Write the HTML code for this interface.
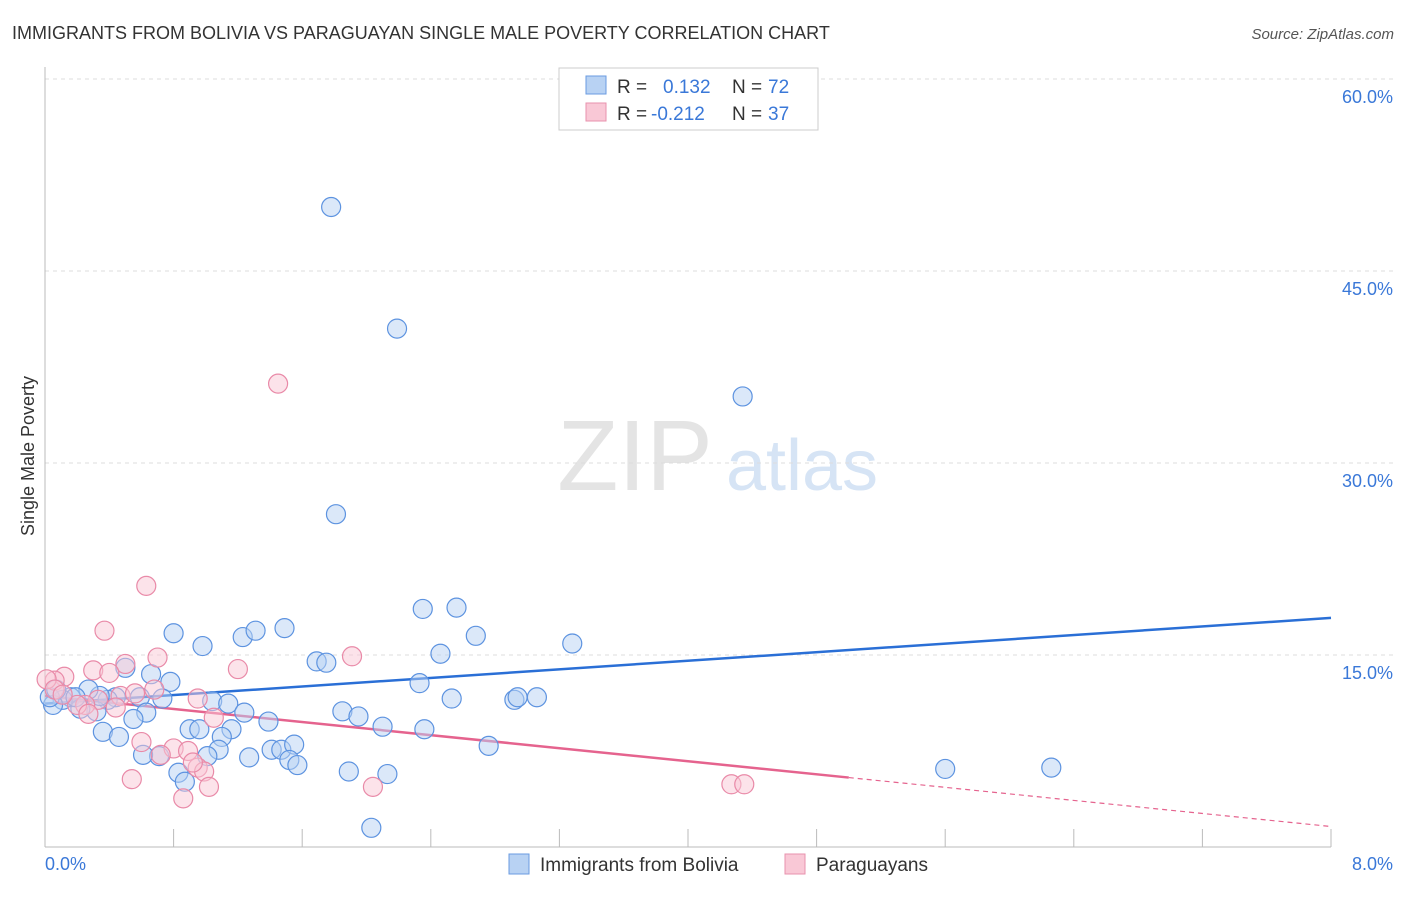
<!DOCTYPE html>
<html><head><meta charset="utf-8"><style>
body{margin:0;background:#fff;font-family:"Liberation Sans",sans-serif;}
svg text{font-family:"Liberation Sans",sans-serif;}
</style></head><body>
<svg id="chart" width="1406" height="892" viewBox="0 0 1406 892" xmlns="http://www.w3.org/2000/svg">
<text x="12" y="39" font-size="18" fill="#333">IMMIGRANTS FROM BOLIVIA VS PARAGUAYAN SINGLE MALE POVERTY CORRELATION CHART</text>
<text x="1394" y="39" font-size="15" fill="#555" text-anchor="end" font-style="italic">Source: ZipAtlas.com</text>
<text transform="translate(34,456) rotate(-90)" font-size="18" fill="#333" text-anchor="middle">Single Male Poverty</text>
<g><text x="635" y="490" font-size="100" fill="#e4e4e4" text-anchor="middle" font-family="Liberation Serif">ZIP</text><text x="802" y="490" font-size="72" fill="#d6e4f5" text-anchor="middle">atlas</text></g>
<g id="grid"></g><g id="axes"></g><g id="trends"></g><g id="dots"></g>
<g>
<rect x="559" y="68" width="259" height="62" fill="#fff" stroke="#ccc"/>
<rect x="586" y="76" width="20" height="18" fill="#b8d2f3" stroke="#6a9be0"/>
<text x="617" y="93" font-size="19" fill="#333">R = </text><text x="663" y="93" font-size="19" fill="#3a78d8">0.132</text>
<text x="732" y="93" font-size="19" fill="#333">N = </text><text x="768" y="93" font-size="19" fill="#3a78d8">72</text>
<rect x="586" y="103" width="20" height="18" fill="#f9c8d6" stroke="#e892ad"/>
<text x="617" y="120" font-size="19" fill="#333">R = </text><text x="651" y="120" font-size="19" fill="#3a78d8">-0.212</text>
<text x="732" y="120" font-size="19" fill="#333">N = </text><text x="768" y="120" font-size="19" fill="#3a78d8">37</text>
</g>
<g>
<rect x="509" y="854" width="20" height="20" fill="#b8d2f3" stroke="#6a9be0"/>
<text x="540" y="871" font-size="19" fill="#333">Immigrants from Bolivia</text>
<rect x="785" y="854" width="20" height="20" fill="#f9c8d6" stroke="#e892ad"/>
<text x="816" y="871" font-size="19" fill="#333">Paraguayans</text>
</g>
</svg>
<script>
const blueX=[1.78,2.19,4.34,1.81,2.35,2.56,2.68,3.28,0.80,0.98,1.23,1.31,1.49,1.69,1.75,2.46,2.33,2.53,2.92,2.94,3.06,1.85,1.95,2.10,2.36,2.76,1.89,2.13,2.03,5.60,6.26,0.50,0.66,0.78,0.73,0.59,0.63,0.55,0.44,0.39,0.32,0.36,0.46,0.34,0.27,0.16,0.11,0.05,0.03,0.07,1.04,1.14,1.24,1.39,0.90,0.96,1.16,1.10,1.08,1.01,1.27,1.41,1.47,1.55,1.52,1.57,0.83,0.87,0.71,0.61,0.22,0.19];
const blueY=[50.0,40.5,35.2,26.0,18.6,18.7,16.5,15.9,16.7,15.7,16.4,16.9,17.1,14.5,14.4,15.1,12.8,11.6,11.5,11.7,11.7,10.6,10.2,9.4,9.2,7.9,5.9,5.7,1.5,6.1,6.2,14.0,13.5,12.9,11.6,11.7,10.5,10.0,11.7,11.5,10.6,9.0,8.6,11.8,12.3,11.7,11.5,11.1,11.7,12.3,11.4,11.2,10.5,9.8,9.2,9.2,9.2,8.6,7.6,7.1,7.0,7.6,7.6,8.0,6.8,6.4,5.8,5.1,7.1,7.2,10.8,11.7];
const pinkX=[1.45,0.63,0.37,0.70,1.20,1.91,0.50,0.30,0.40,0.12,0.06,0.47,0.68,0.95,0.56,0.33,0.25,0.20,0.44,1.05,0.60,0.80,0.89,0.72,0.95,0.99,0.92,0.54,0.86,1.02,2.04,4.27,4.35,0.01,0.06,0.11,0.27];
const pinkY=[36.2,20.4,16.9,14.8,13.9,14.9,14.3,13.8,13.6,13.3,13.0,11.8,12.3,11.6,12.0,11.5,11.1,11.1,10.9,10.1,8.2,7.7,7.5,7.2,6.2,5.9,6.6,5.3,3.8,4.7,4.7,4.9,4.9,13.1,12.3,11.9,10.4];
const trendBlue=[11.2,17.9]; // y% at x=0 and x=8
const trendPink=[11.8,1.6];
const pinkSolidEndX=5.0;
const xTicks=[0,0.8,1.6,2.4,3.2,4.0,4.8,5.6,6.4,7.2,8.0];
const yTicks=[15,30,45,60];
const yLabels=["15.0%","30.0%","45.0%","60.0%"];
const xLabels=["0.0%","8.0%"];
const NS="http://www.w3.org/2000/svg";
const X=v=>45+v*160.75, Y=v=>847-v*12.8;
function mk(tag,attrs,parent){const e=document.createElementNS(NS,tag);for(const k in attrs)e.setAttribute(k,attrs[k]);document.getElementById(parent).appendChild(e);return e;}
yTicks.forEach((t,i)=>{
 const l=mk('line',{x1:45,x2:1394,y1:Y(t),y2:Y(t),stroke:'#ddd','stroke-dasharray':'4,4'},'grid');
 
 
 const tx=mk('text',{x:1393,y:Y(t)+24,'font-size':18,fill:'#3a78d8','text-anchor':'end'},'axes');tx.textContent=yLabels[i];
 
 
});
const tg=mk('line',{x1:45,x2:1394,y1:79,y2:79,stroke:'#ddd','stroke-dasharray':'4,4'},'grid');


const ya=mk('line',{x1:45,x2:45,y1:67,y2:847,stroke:'#bbb'},'axes');


const xa=mk('line',{x1:45,x2:1331,y1:847,y2:847,stroke:'#bbb'},'axes');


xTicks.forEach(t=>{const l=mk('line',{x1:X(t),x2:X(t),y1:829,y2:847,stroke:'#bbb'},'axes');
 
 });
[[0,'start'],[8,'end']].forEach((p,i)=>{const tx=mk('text',{x:i?1393:45,y:870,'font-size':18,fill:'#3a78d8','text-anchor':p[1]},'axes');tx.textContent=xLabels[i];
 
 });
function dots(xs,ys,fill,stroke,name){xs.forEach((x,i)=>{const c=mk('circle',{cx:X(x),cy:Y(ys[i]),r:9.5,fill:fill,'fill-opacity':0.5,stroke:stroke,'stroke-width':1.2},'dots');
 
 });}
dots(blueX,blueY,'#b8d2f3','#5d93e0','bolivia-point');
dots(pinkX,pinkY,'#f9c8d6','#e98aa8','paraguayan-point');
const bl=mk('line',{x1:X(0),y1:Y(trendBlue[0]),x2:X(8),y2:Y(trendBlue[1]),stroke:'#2a6fd6','stroke-width':2.5},'trends');


const ye=trendPink[0]+(trendPink[1]-trendPink[0])*pinkSolidEndX/8;
const pl=mk('line',{x1:X(0),y1:Y(trendPink[0]),x2:X(pinkSolidEndX),y2:Y(ye),stroke:'#e5638e','stroke-width':2.5},'trends');


const pd=mk('line',{x1:X(pinkSolidEndX),y1:Y(ye),x2:X(8),y2:Y(trendPink[1]),stroke:'#e5638e','stroke-width':1.2,'stroke-dasharray':'5,4'},'trends');


</script>
</body></html>
